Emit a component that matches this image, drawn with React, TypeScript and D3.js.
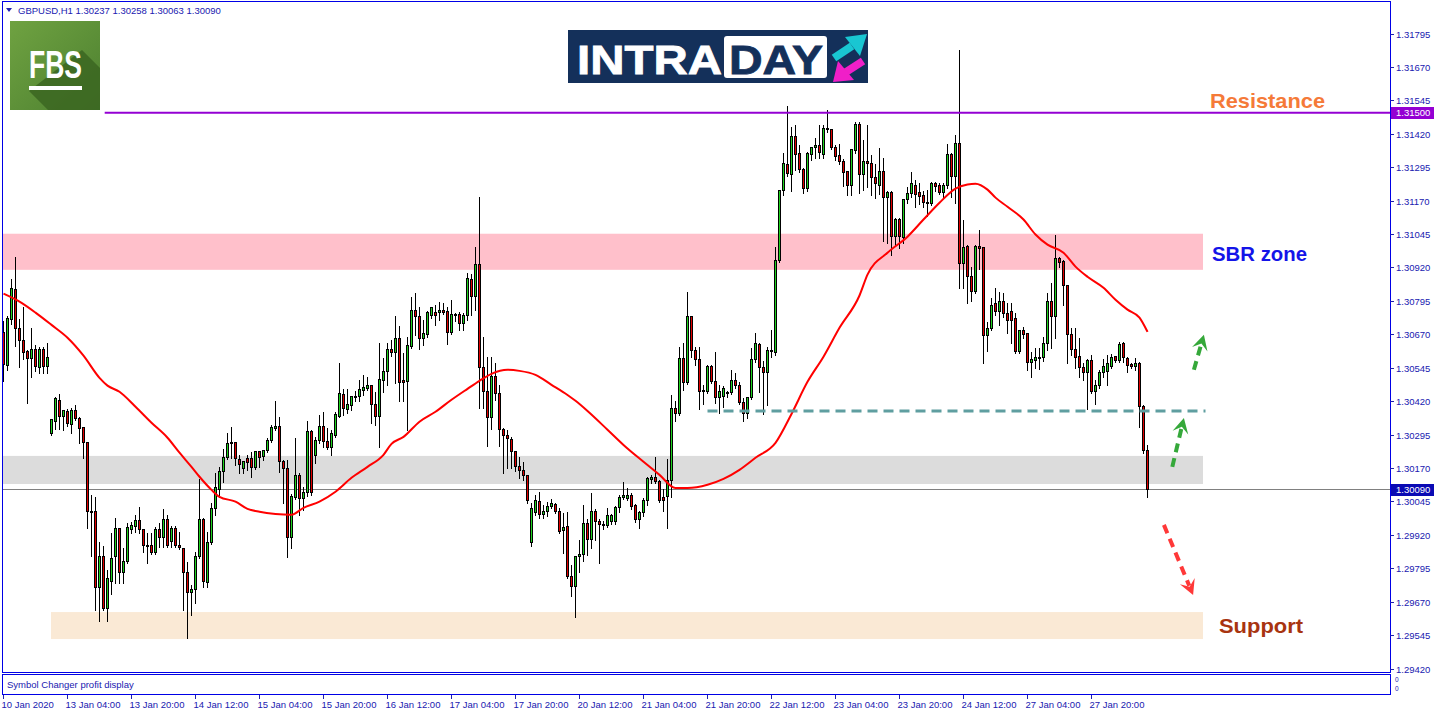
import React from "react";
import * as d3 from "d3";

// ---------- DATA (GBPUSD H1) ----------
const opens = [
1.30678,1.30555,1.30726,1.30839,1.30692,1.30647,1.30607,1.30580,1.30614,1.30547,1.30614,1.30551,
1.30300,1.30345,1.30423,1.30363,1.30382,1.30333,1.30385,1.30356,1.30322,1.30266,1.30008,1.30008,
1.29723,1.29839,1.29648,1.29746,1.29839,1.29944,1.29780,1.29821,1.29940,1.29952,1.29974,1.29940,
1.29881,1.29881,1.29854,1.29940,1.29910,1.29981,1.29896,1.29944,1.29881,1.29869,1.29780,1.29705,
1.29719,1.29839,1.29978,1.29742,1.29892,1.30019,1.30090,1.30158,1.30210,1.30262,1.30266,1.30202,
1.30169,1.30206,1.30206,1.30172,1.30232,1.30213,1.30236,1.30273,1.30318,1.30326,1.30195,1.30169,
1.29910,1.30060,1.30143,1.30056,1.30079,1.30307,1.30217,1.30273,1.30326,1.30270,1.30247,1.30292,
1.30363,1.30445,1.30389,1.30404,1.30434,1.30438,1.30460,1.30468,1.30479,1.30408,1.30363,1.30498,
1.30532,1.30614,1.30603,1.30655,1.30498,1.30494,1.30625,1.30760,1.30738,1.30655,1.30670,1.30742,
1.30753,1.30753,1.30760,1.30756,1.30678,1.30745,1.30745,1.30711,1.30742,1.30876,1.30813,1.30932,
1.30547,1.30457,1.30359,1.30513,1.30449,1.30315,1.30292,1.30277,1.30232,1.30176,1.30161,1.30143,
1.29892,1.30004,1.30045,1.29997,1.30008,1.30027,1.30034,1.30008,1.29937,1.29952,1.29765,1.29727,
1.29839,1.29847,1.29963,1.29903,1.30008,1.29971,1.29959,1.29955,1.29971,1.29971,1.30023,1.30060,
1.30056,1.30068,1.30030,1.29978,1.30004,1.30049,1.30127,1.30135,1.30120,1.30060,1.30064,1.30124,
1.30393,1.30374,1.30580,1.30491,1.30738,1.30610,1.30577,1.30457,1.30457,1.30551,1.30494,1.30434,
1.30438,1.30453,1.30453,1.30498,1.30479,1.30416,1.30374,1.30434,1.30577,1.30632,1.30547,1.30528,
1.30607,1.30603,1.30947,1.31209,1.31306,1.31269,1.31411,1.31348,1.31288,1.31217,1.31344,1.31370,
1.31378,1.31344,1.31437,1.31437,1.31370,1.31340,1.31318,1.31280,1.31228,1.31359,1.31456,1.31269,
1.31318,1.31310,1.31258,1.31228,1.31280,1.31183,1.31202,1.31037,1.31101,1.31034,1.31175,1.31198,
1.31228,1.31202,1.31191,1.31164,1.31160,1.31235,1.31228,1.31202,1.31228,1.31344,1.31262,1.31385,
1.30936,1.31000,1.30887,1.30831,1.31000,1.30996,1.30666,1.30692,1.30786,1.30756,1.30794,1.30749,
1.30756,1.30730,1.30607,1.30685,1.30674,1.30566,1.30573,1.30584,1.30584,1.30636,1.30794,1.30738,
1.30954,1.30943,1.30854,1.30670,1.30614,1.30588,1.30547,1.30528,1.30573,1.30457,1.30479,1.30528,
1.30532,1.30551,1.30588,1.30573,1.30636,1.30580,1.30558,1.30551,1.30562,1.30401,1.30237];

const highs = [
1.30722,1.30742,1.30879,1.30962,1.30730,1.30775,1.30614,1.30696,1.30632,1.30625,1.30625,1.30640,
1.30356,1.30438,1.30449,1.30389,1.30393,1.30397,1.30408,1.30363,1.30326,1.30270,1.30071,1.30064,
1.29896,1.29881,1.29791,1.29929,1.29985,1.29948,1.29873,1.29967,1.29971,1.29997,1.30027,1.29944,
1.29929,1.29929,1.29952,1.29967,1.30019,1.29997,1.29955,1.29955,1.29933,1.29873,1.29821,1.29734,
1.29858,1.30131,1.29985,1.29933,1.30042,1.30154,1.30176,1.30243,1.30304,1.30326,1.30270,1.30221,
1.30199,1.30221,1.30232,1.30236,1.30236,1.30240,1.30285,1.30333,1.30423,1.30363,1.30202,1.30202,
1.30075,1.30285,1.30154,1.30101,1.30348,1.30315,1.30288,1.30371,1.30382,1.30322,1.30315,1.30382,
1.30566,1.30468,1.30468,1.30442,1.30460,1.30502,1.30520,1.30513,1.30483,1.30457,1.30640,1.30584,
1.30640,1.30651,1.30742,1.30704,1.30603,1.30662,1.30813,1.30828,1.30775,1.30726,1.30760,1.30775,
1.30782,1.30794,1.30790,1.30775,1.30801,1.30753,1.30756,1.30753,1.30902,1.30898,1.31000,1.31187,
1.30662,1.30588,1.30588,1.30566,1.30483,1.30322,1.30315,1.30288,1.30236,1.30213,1.30195,1.30146,
1.30042,1.30071,1.30083,1.30034,1.30045,1.30056,1.30042,1.30023,1.30004,1.30008,1.29810,1.29843,
1.29903,1.30034,1.29981,1.30079,1.30019,1.29981,1.29974,1.30023,1.30001,1.30030,1.30071,1.30120,
1.30097,1.30079,1.30038,1.30012,1.30060,1.30139,1.30146,1.30213,1.30127,1.30094,1.30206,1.30445,
1.30423,1.30625,1.30640,1.30831,1.30742,1.30625,1.30625,1.30483,1.30558,1.30558,1.30607,1.30483,
1.30479,1.30460,1.30539,1.30528,1.30494,1.30434,1.30438,1.30621,1.30678,1.30640,1.30573,1.30625,
1.30689,1.31000,1.31213,1.31351,1.31527,1.31449,1.31456,1.31381,1.31292,1.31355,1.31374,1.31407,
1.31456,1.31456,1.31512,1.31441,1.31381,1.31385,1.31329,1.31284,1.31366,1.31467,1.31464,1.31400,
1.31456,1.31344,1.31310,1.31370,1.31333,1.31209,1.31209,1.31108,1.31108,1.31179,1.31224,1.31280,
1.31250,1.31239,1.31209,1.31213,1.31243,1.31243,1.31239,1.31239,1.31385,1.31351,1.31419,1.31737,
1.31101,1.31007,1.30925,1.31007,1.31063,1.31000,1.30719,1.30809,1.30846,1.30831,1.30828,1.30790,
1.30790,1.30753,1.30689,1.30700,1.30678,1.30607,1.30621,1.30621,1.30662,1.30828,1.30865,1.31045,
1.30962,1.30951,1.30858,1.30696,1.30696,1.30659,1.30566,1.30580,1.30595,1.30502,1.30539,1.30580,
1.30595,1.30599,1.30592,1.30644,1.30644,1.30588,1.30566,1.30584,1.30569,1.30408,1.30258];

const lows = [
1.30498,1.30539,1.30711,1.30629,1.30551,1.30580,1.30416,1.30513,1.30535,1.30528,1.30528,1.30528,
1.30296,1.30318,1.30318,1.30315,1.30330,1.30304,1.30352,1.30266,1.30210,1.29948,1.29843,1.29641,
1.29599,1.29641,1.29599,1.29701,1.29742,1.29742,1.29742,1.29817,1.29929,1.29933,1.29929,1.29858,
1.29817,1.29850,1.29850,1.29877,1.29877,1.29877,1.29877,1.29877,1.29869,1.29641,1.29536,1.29622,
1.29667,1.29835,1.29727,1.29727,1.29888,1.29997,1.30064,1.30120,1.30206,1.30210,1.30184,1.30154,
1.30154,1.30165,1.30139,1.30169,1.30176,1.30202,1.30232,1.30270,1.30315,1.30158,1.30042,1.29839,
1.29873,1.30056,1.29997,1.30015,1.30068,1.30071,1.30191,1.30266,1.30251,1.30243,1.30221,1.30288,
1.30363,1.30371,1.30378,1.30389,1.30423,1.30423,1.30445,1.30464,1.30341,1.30333,1.30251,1.30457,
1.30483,1.30592,1.30491,1.30423,1.30423,1.30315,1.30622,1.30670,1.30618,1.30632,1.30662,1.30734,
1.30707,1.30726,1.30749,1.30636,1.30674,1.30722,1.30689,1.30689,1.30726,1.30745,1.30764,1.30397,
1.30397,1.30255,1.30318,1.30427,1.30255,1.30154,1.30172,1.30172,1.30161,1.30135,1.30127,1.30042,
1.29881,1.29997,1.29985,1.29985,1.29993,1.30023,1.30004,1.29929,1.29854,1.29761,1.29694,1.29615,
1.29783,1.29824,1.29847,1.29873,1.29903,1.29817,1.29944,1.29952,1.29963,1.29963,1.30008,1.30056,
1.30053,1.30019,1.29971,1.29948,1.29993,1.30034,1.30116,1.30116,1.30045,1.30012,1.29948,1.30064,
1.30348,1.30371,1.30464,1.30487,1.30588,1.30558,1.30393,1.30412,1.30453,1.30490,1.30416,1.30378,
1.30401,1.30438,1.30449,1.30472,1.30412,1.30348,1.30359,1.30430,1.30569,1.30457,1.30374,1.30408,
1.30588,1.30596,1.30943,1.31191,1.31265,1.31209,1.31288,1.31277,1.31202,1.31209,1.31322,1.31333,
1.31333,1.31333,1.31430,1.31366,1.31322,1.31310,1.31228,1.31191,1.31191,1.31351,1.31202,1.31213,
1.31224,1.31194,1.31183,1.31198,1.31019,1.31015,1.30970,1.31004,1.30996,1.31015,1.31164,1.31187,
1.31149,1.31160,1.31149,1.31116,1.31157,1.31209,1.31198,1.31183,1.31220,1.31187,1.31164,1.30846,
1.30846,1.30790,1.30797,1.30828,1.30917,1.30566,1.30610,1.30689,1.30745,1.30707,1.30738,1.30678,
1.30640,1.30603,1.30603,1.30659,1.30539,1.30513,1.30547,1.30543,1.30573,1.30614,1.30621,1.30659,
1.30925,1.30782,1.30566,1.30595,1.30547,1.30513,1.30502,1.30393,1.30453,1.30412,1.30472,1.30513,
1.30483,1.30547,1.30569,1.30569,1.30569,1.30532,1.30547,1.30539,1.30326,1.30228,1.30063];

const closes = [
1.30558,1.30730,1.30842,1.30692,1.30647,1.30603,1.30580,1.30614,1.30551,1.30614,1.30551,1.30584,
1.30352,1.30430,1.30363,1.30385,1.30337,1.30385,1.30356,1.30318,1.30266,1.30008,1.30004,1.29723,
1.29839,1.29648,1.29757,1.29835,1.29944,1.29780,1.29821,1.29948,1.29955,1.29974,1.29940,1.29881,
1.29877,1.29854,1.29940,1.29910,1.29981,1.29881,1.29944,1.29881,1.29873,1.29780,1.29705,1.29719,
1.29839,1.29981,1.29746,1.29892,1.30019,1.30097,1.30158,1.30210,1.30262,1.30266,1.30206,1.30184,
1.30195,1.30191,1.30172,1.30232,1.30210,1.30236,1.30273,1.30322,1.30326,1.30195,1.30169,1.29910,
1.30064,1.30143,1.30056,1.30079,1.30307,1.30079,1.30273,1.30326,1.30270,1.30247,1.30300,1.30371,
1.30449,1.30393,1.30408,1.30438,1.30440,1.30464,1.30472,1.30479,1.30408,1.30363,1.30502,1.30532,
1.30614,1.30603,1.30655,1.30491,1.30491,1.30629,1.30760,1.30738,1.30655,1.30674,1.30753,1.30771,
1.30742,1.30760,1.30753,1.30678,1.30745,1.30742,1.30711,1.30742,1.30879,1.30813,1.30932,1.30547,
1.30457,1.30359,1.30513,1.30449,1.30315,1.30292,1.30281,1.30232,1.30176,1.30161,1.30143,1.30049,
1.30019,1.30049,1.29997,1.30008,1.30027,1.30038,1.30008,1.29933,1.29948,1.29765,1.29727,1.29839,
1.29847,1.29963,1.29903,1.30008,1.29971,1.29959,1.29955,1.29993,1.29993,1.30023,1.30060,1.30068,
1.30068,1.30027,1.29978,1.30004,1.30049,1.30131,1.30135,1.30120,1.30049,1.30049,1.30124,1.30393,
1.30374,1.30580,1.30491,1.30738,1.30610,1.30577,1.30457,1.30460,1.30551,1.30494,1.30434,1.30457,
1.30468,1.30449,1.30498,1.30479,1.30416,1.30374,1.30434,1.30577,1.30636,1.30547,1.30528,1.30610,
1.30610,1.30947,1.31209,1.31310,1.31273,1.31411,1.31344,1.31288,1.31217,1.31348,1.31370,1.31378,
1.31351,1.31441,1.31441,1.31370,1.31337,1.31318,1.31277,1.31228,1.31363,1.31456,1.31269,1.31318,
1.31310,1.31258,1.31235,1.31280,1.31183,1.31202,1.31037,1.31101,1.31037,1.31175,1.31198,1.31235,
1.31194,1.31187,1.31164,1.31160,1.31235,1.31224,1.31202,1.31228,1.31344,1.31262,1.31385,1.30936,
1.30996,1.30887,1.30831,1.31000,1.30992,1.30666,1.30692,1.30779,1.30756,1.30794,1.30749,1.30722,
1.30722,1.30607,1.30685,1.30670,1.30566,1.30577,1.30584,1.30580,1.30636,1.30794,1.30738,1.30954,
1.30940,1.30854,1.30670,1.30614,1.30584,1.30547,1.30528,1.30573,1.30457,1.30479,1.30528,1.30551,
1.30562,1.30584,1.30573,1.30632,1.30584,1.30555,1.30551,1.30562,1.30401,1.30236,1.30090];

// moving average line, sampled at bar indices
const maBars = [0,4,8,12,16,20,24,26,29,33,37,41,44,47,49,52,54,58,61,64,68,72,75,79,83,87,91,95,97,100,
104,108,112,116,119,122,126,129,133,137,141,143,146,151,155,160,164,168,171,176,180,184,188,193,197,201,
205,209,214,216,221,226,230,234,238,241,243,246,248,251,255,258,261,265,268,271,275,278,281,284,286];
const maValues = [1.30824,1.30794,1.30753,1.30707,1.30659,1.30592,1.30509,1.30480,1.30457,1.30401,1.30341,
1.30285,1.30229,1.30176,1.30139,1.30090,1.30064,1.30046,1.30019,1.30008,1.30000,1.29997,1.30023,1.30046,
1.30083,1.30135,1.30176,1.30221,1.30262,1.30288,1.30345,1.30382,1.30427,1.30468,1.30498,1.30524,1.30539,
1.30535,1.30520,1.30483,1.30445,1.30423,1.30385,1.30315,1.30258,1.30195,1.30146,1.30097,1.30097,1.30109,
1.30131,1.30165,1.30210,1.30266,1.30374,1.30494,1.30588,1.30696,1.30817,1.30895,1.30977,1.31037,1.31101,
1.31164,1.31217,1.31232,1.31235,1.31213,1.31183,1.31149,1.31101,1.31045,1.31007,1.30977,1.30925,1.30887,
1.30846,1.30801,1.30764,1.30734,1.30681];

const priceTicks = [1.31795,1.3167,1.31545,1.3142,1.31295,1.3117,1.31045,1.3092,1.30795,1.3067,
  1.30545,1.3042,1.30295,1.3017,1.30045,1.2992,1.29795,1.2967,1.29545,1.2942];

const timeLabels = ["10 Jan 2020","13 Jan 04:00","13 Jan 20:00","14 Jan 12:00","15 Jan 04:00","15 Jan 20:00",
  "16 Jan 12:00","17 Jan 04:00","17 Jan 20:00","20 Jan 12:00","21 Jan 04:00","21 Jan 20:00","22 Jan 12:00",
  "23 Jan 04:00","23 Jan 20:00","24 Jan 12:00","27 Jan 04:00","27 Jan 20:00"];
const timeLabelBars = [0,16,32,48,64,80,96,112,128,144,160,176,192,208,224,240,256,272];

const headerText = "GBPUSD,H1  1.30237 1.30258 1.30063 1.30090";
const resistanceLevel = 1.315;
const lastPrice = 1.3009;
const sbrZone = [1.30913, 1.31048];
const grayZone = [1.30112, 1.30217];
const supportZone = [1.29532, 1.29633];
const retestLevel = 1.30385;

// arrows: [fromBar, fromPrice, toBar, toPrice]
const greenArrows = [
  [292.2, 1.30176, 295.1, 1.30359],
  [297.6, 1.30539, 300.1, 1.3067],
];
const redArrows = [[290.1, 1.29959, 297.4, 1.29697]];

const BLUE = "#0000e6";
const TXT = "#2020b0";
const FONT = "'Liberation Sans', Arial, sans-serif";

function ArrowHead({ x1, y1, x2, y2, color }: any) {
  const dx = x2 - x1, dy = y2 - y1;
  const len = Math.hypot(dx, dy);
  const ux = dx / len, uy = dy / len;
  const px = -uy, py = ux;
  const L = 15, Wd = 8, notch = 9;
  const bx = x2 - ux * L, by = y2 - uy * L;
  const pts = [
    [x2, y2],
    [bx + px * Wd, by + py * Wd],
    [x2 - ux * notch, y2 - uy * notch],
    [bx - px * Wd, by - py * Wd],
  ];
  return <polygon points={pts.map((p) => p.join(",")).join(" ")} fill={color} />;
}

export default function App() {
  const x = d3.scaleLinear().domain([0, 346.75]).range([3.5, 1390.5]);
  const y = d3.scaleLinear().domain([1.2942, 1.31795]).range([669, 34]);
  const crisp = (v: number) => Math.round(v - 0.5) + 0.5;
  const bull = "#1ed21e";
  const bear = "#e00000";

  const candles = opens.map((o, i) => {
    const c = closes[i], h = highs[i], l = lows[i];
    const cx = crisp(x(i));
    const yt = crisp(y(Math.max(o, c)));
    const yb = crisp(y(Math.min(o, c)));
    return (
      <g key={i}>
        <line x1={cx} x2={cx} y1={Math.round(y(h))} y2={Math.round(y(l)) + 1} stroke="#000" strokeWidth={1} />
        {yb - yt < 1 ? (
          <line x1={cx - 1.5} x2={cx + 1.5} y1={yt} y2={yt} stroke="#000" strokeWidth={1} />
        ) : (
          <rect x={cx - 1} y={yt} width={2} height={yb - yt} fill={c >= o ? bull : bear} stroke="#000" strokeWidth={1} />
        )}
      </g>
    );
  });

  const maPath = d3
    .line<number>()
    .x((_, k) => x(maBars[k]))
    .y((d) => y(d))
    .curve(d3.curveMonotoneX)(maValues) as string;

  const zoneRect = (z: number[], b0: number, b1: number, fill: string) => (
    <rect x={x(b0) - 0.5} y={y(z[1])} width={x(b1) - x(b0)} height={y(z[0]) - y(z[1])} fill={fill} />
  );

  const arrow = (a: number[], color: string, k: string) => {
    const x1 = x(a[0]), y1 = y(a[1]), x2 = x(a[2]), y2 = y(a[3]);
    const dx = x2 - x1, dy = y2 - y1, len = Math.hypot(dx, dy);
    const ex = x2 - (dx / len) * 10, ey = y2 - (dy / len) * 10;
    return (
      <g key={k}>
        <line x1={x1} y1={y1} x2={ex} y2={ey} stroke={color} strokeWidth={4} strokeDasharray="9 6" />
        <ArrowHead x1={x1} y1={y1} x2={x2} y2={y2} color={color} />
      </g>
    );
  };

  return (
    <svg width={1436} height={716} style={{ position: "absolute", left: 0, top: 0, background: "#fff" }}
      fontFamily={FONT}>
      <defs>
        <clipPath id="plot">
          <rect x={3} y={3} width={1387} height={669} />
        </clipPath>
        <linearGradient id="fbsg" x1="0" y1="0" x2="1" y2="1">
          <stop offset="0" stopColor="#6fa241" />
          <stop offset="1" stopColor="#4d8030" />
        </linearGradient>
      </defs>
      <rect x={0} y={0} width={1436} height={716} fill="#fff" />

      <g clipPath="url(#plot)">
        {zoneRect(sbrZone, 0, 300, "#ffc0cb")}
        {zoneRect(grayZone, 0, 300, "#dcdcdc")}
        {zoneRect(supportZone, 12, 300, "#fae9d5")}
        <line x1={3} x2={1390} y1={crisp(y(lastPrice))} y2={crisp(y(lastPrice))} stroke="#808080" strokeWidth={1} />
        {candles}
        <path d={maPath} fill="none" stroke="#ff0000" strokeWidth={2} />
        <line x1={x(176)} x2={x(300.5)} y1={y(retestLevel)} y2={y(retestLevel)} stroke="#5f9ea0" strokeWidth={3} strokeDasharray="10 6" />
        <line x1={x(25.3)} x2={1390} y1={y(resistanceLevel)} y2={y(resistanceLevel)} stroke="#9400d3" strokeWidth={2} />
        {greenArrows.map((a, k) => arrow(a, "#35a83a", "g" + k))}
        {redArrows.map((a, k) => arrow(a, "#ff3838", "r" + k))}
      </g>

      {/* annotations */}
      <text x={1210} y={108} fontSize={21} fontWeight="bold" fill="#f57a38" textLength={115} lengthAdjust="spacingAndGlyphs">Resistance</text>
      <text x={1212} y={261} fontSize={21} fontWeight="bold" fill="#1414e8" textLength={95} lengthAdjust="spacingAndGlyphs">SBR zone</text>
      <text x={1219} y={633} fontSize={21} fontWeight="bold" fill="#a83410" textLength={84} lengthAdjust="spacingAndGlyphs">Support</text>

      {/* FBS logo */}
      <g>
        <rect x={10} y={21} width={90} height={89} fill="url(#fbsg)" />
        <polygon points="82,50 100,68 100,110 48,110 29,91" fill="#3b6621" opacity={0.85} />
        <text x={29} y={78} fontSize={38} fontWeight="bold" fill="#fff" textLength={53} lengthAdjust="spacingAndGlyphs">FBS</text>
        <rect x={29} y={86} width={53} height={4} fill="#fff" />
      </g>

      {/* INTRADAY logo */}
      <g>
        <rect x={568} y={30} width={300} height={53} fill="#14305a" />
        <text x={577} y={74} fontSize={41} fontWeight="bold" fill="#fff" stroke="#fff" strokeWidth={0.8} textLength={145} lengthAdjust="spacingAndGlyphs">INTRA</text>
        <rect x={724} y={36} width={103} height={42} rx={3} fill="#fff" />
        <text x={729} y={74} fontSize={41} fontWeight="bold" fill="#14305a" stroke="#14305a" strokeWidth={0.8} textLength={94} lengthAdjust="spacingAndGlyphs">DAY</text>
        <line x1={834} y1={58} x2={852} y2={46} stroke="#19c6d2" strokeWidth={8} />
        <polygon points="867,34 845,37 860,56" fill="#19c6d2" />
        <line x1={863} y1={61} x2={846} y2={72} stroke="#f01fc8" strokeWidth={8} />
        <polygon points="833,82 838,61 854,80" fill="#f01fc8" />
      </g>

      {/* frame */}
      <rect x={2.5} y={1.5} width={1388} height={671} fill="none" stroke={BLUE} strokeWidth={1} />
      <rect x={2.5} y={674.5} width={1388} height={20} fill="none" stroke={BLUE} strokeWidth={1} />

      {/* header */}
      <polygon points="6,8 12,8 9,12" fill={TXT} />
      <text x={18} y={14} fontSize={9.5} fill={TXT}>{headerText}</text>
      <text x={7} y={688} fontSize={9.5} fill={TXT}>Symbol Changer profit display</text>
      <text x={1395} y={682} fontSize={6.5} fill={TXT}>0</text>
      <text x={1395} y={691} fontSize={6.5} fill={TXT}>0</text>

      {/* price axis */}
      {priceTicks.map((p) => (
        <g key={p}>
          <line x1={1390} x2={1394} y1={crisp(y(p))} y2={crisp(y(p))} stroke={TXT} />
          <text x={1396} y={y(p) + 3.5} fontSize={9.5} fill={TXT}>{p.toFixed(5)}</text>
        </g>
      ))}
      <rect x={1391} y={Math.round(y(resistanceLevel)) - 6} width={43} height={12} fill="#9400d3" />
      <text x={1396} y={y(resistanceLevel) + 3.5} fontSize={9.5} fill="#fff">{resistanceLevel.toFixed(5)}</text>
      <rect x={1391} y={Math.round(y(lastPrice)) - 6} width={43} height={12} fill="#0a0ab4" />
      <text x={1396} y={y(lastPrice) + 3.5} fontSize={9.5} fill="#fff">{lastPrice.toFixed(5)}</text>

      {/* time axis */}
      {timeLabels.map((t, k) => (
        <g key={t}>
          <line x1={crisp(x(timeLabelBars[k]))} x2={crisp(x(timeLabelBars[k]))} y1={695} y2={699} stroke={TXT} />
          <text x={x(timeLabelBars[k]) - 2} y={708} fontSize={9.5} fill={TXT}>{t}</text>
        </g>
      ))}
    </svg>
  );
}
